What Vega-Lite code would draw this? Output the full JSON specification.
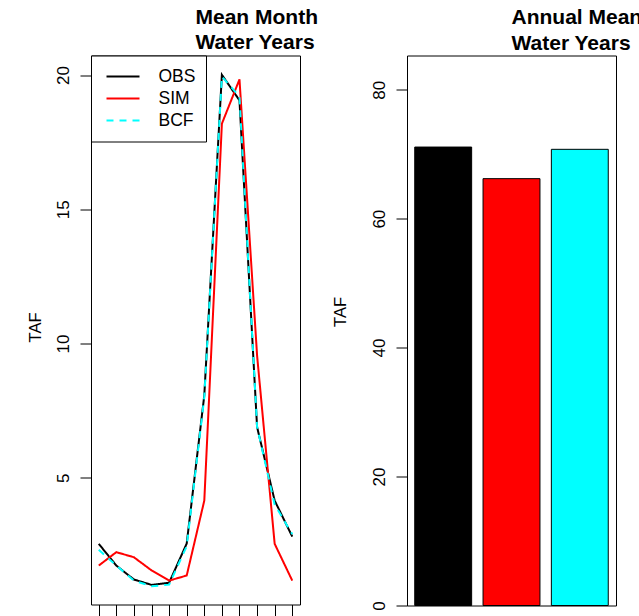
{
  "$schema": "https://vega.github.io/schema/vega-lite/v6.json",
  "background": "white",
  "padding": {"left": 26, "top": 5.5, "right": 0, "bottom": 0},
  "config": {
    "font": "Liberation Sans",
    "view": {"stroke": "black", "strokeWidth": 1},
    "axis": {
      "domain": false, "grid": false, "tickColor": "black", "tickSize": 11, "tickWidth": 1,
      "labelColor": "black", "labelFontSize": 17, "labelFont": "Liberation Sans",
      "titleFont": "Liberation Sans", "titleFontWeight": "normal", "titleFontSize": 16.5, "titleColor": "black"
    },
    "title": {"font": "Liberation Sans", "fontSize": 21, "fontWeight": "bold", "color": "black", "lineHeight": 25.5, "anchor": "middle", "align": "left", "baseline": "bottom", "offset": 0}
  },
  "datasets": {
    "monthly": [
      {"month": 1, "series": "OBS", "taf": 2.54}, {"month": 2, "series": "OBS", "taf": 1.73}, {"month": 3, "series": "OBS", "taf": 1.21},
      {"month": 4, "series": "OBS", "taf": 1.01}, {"month": 5, "series": "OBS", "taf": 1.09}, {"month": 6, "series": "OBS", "taf": 2.55},
      {"month": 7, "series": "OBS", "taf": 8.07}, {"month": 8, "series": "OBS", "taf": 20.01}, {"month": 9, "series": "OBS", "taf": 19.06},
      {"month": 10, "series": "OBS", "taf": 6.89}, {"month": 11, "series": "OBS", "taf": 4.15}, {"month": 12, "series": "OBS", "taf": 2.81},
      {"month": 1, "series": "SIM", "taf": 1.73}, {"month": 2, "series": "SIM", "taf": 2.23}, {"month": 3, "series": "SIM", "taf": 2.04},
      {"month": 4, "series": "SIM", "taf": 1.55}, {"month": 5, "series": "SIM", "taf": 1.17}, {"month": 6, "series": "SIM", "taf": 1.36},
      {"month": 7, "series": "SIM", "taf": 4.15}, {"month": 8, "series": "SIM", "taf": 18.19}, {"month": 9, "series": "SIM", "taf": 19.84},
      {"month": 10, "series": "SIM", "taf": 9.56}, {"month": 11, "series": "SIM", "taf": 2.54}, {"month": 12, "series": "SIM", "taf": 1.17},
      {"month": 1, "series": "BCF", "taf": 2.32}, {"month": 2, "series": "BCF", "taf": 1.73}, {"month": 3, "series": "BCF", "taf": 1.17},
      {"month": 4, "series": "BCF", "taf": 0.96}, {"month": 5, "series": "BCF", "taf": 1.02}, {"month": 6, "series": "BCF", "taf": 2.45},
      {"month": 7, "series": "BCF", "taf": 8.0}, {"month": 8, "series": "BCF", "taf": 19.95}, {"month": 9, "series": "BCF", "taf": 19.2},
      {"month": 10, "series": "BCF", "taf": 6.9}, {"month": 11, "series": "BCF", "taf": 4.0}, {"month": 12, "series": "BCF", "taf": 2.9}
    ],
    "annual": [
      {"name": "OBS", "taf": 71.1},
      {"name": "SIM", "taf": 66.2},
      {"name": "BCF", "taf": 70.75}
    ]
  },
  "spacing": 107,
  "bounds": "flush",
  "resolve": {
    "scale": {"color": "independent", "strokeDash": "independent"},
    "legend": {"color": "independent", "strokeDash": "independent"}
  },
  "hconcat": [
    {
      "width": 209,
      "height": 549,
      "title": {"text": ["Mean Month", "Water Years"], "anchor": "middle", "align": "left", "dy": 2},
      "data": {"name": "monthly"},
      "mark": {"type": "line", "strokeWidth": 2, "clip": true},
      "encoding": {
        "x": {
          "field": "month", "type": "quantitative",
          "scale": {"domain": [0.56, 12.44], "nice": false, "zero": false},
          "axis": {"values": [1, 2, 3, 4, 5, 6, 7, 8, 9, 10, 11, 12], "labels": false, "title": null}
        },
        "y": {
          "field": "taf", "type": "quantitative",
          "scale": {"domain": [0.28, 20.73], "nice": false, "zero": false},
          "axis": {
            "values": [5, 10, 15, 20], "labelAngle": 270, "labelAlign": "center", "labelBaseline": "alphabetic", "labelPadding": 12,
            "title": "TAF", "titleAngle": 270, "titleAlign": "center", "titleBaseline": "middle", "titleX": -56, "titleY": 271.5
          }
        },
        "color": {
          "field": "series", "type": "nominal",
          "scale": {"domain": ["OBS", "SIM", "BCF"], "range": ["black", "red", "cyan"]},
          "legend": {"title": null, "orient": "top-left", "offset": 0, "strokeColor": "black", "fillColor": "white", "padding": 10, "clipHeight": 22, "rowPadding": 0, "symbolType": "stroke", "symbolSize": 1089, "symbolStrokeWidth": 2, "symbolOffset": 4.5, "labelFontSize": 17.5, "labelFont": "Liberation Sans", "labelColor": "black", "labelOffset": 18}
        },
        "strokeDash": {
          "field": "series", "type": "nominal",
          "scale": {"domain": ["OBS", "SIM", "BCF"], "range": [[1, 0], [1, 0], [7, 6]]},
          "legend": {"title": null, "orient": "top-left", "offset": 0, "strokeColor": "black", "fillColor": "white", "padding": 10, "clipHeight": 22, "rowPadding": 0, "symbolType": "stroke", "symbolSize": 1089, "symbolStrokeWidth": 2, "symbolOffset": 4.5, "labelFontSize": 17.5, "labelFont": "Liberation Sans", "labelColor": "black", "labelOffset": 18}
        }
      }
    },
    {
      "width": 209,
      "height": 550,
      "title": {"text": ["Annual Mean", "Water Years"], "anchor": "middle", "align": "left", "dy": 2},
      "data": {"name": "annual"},
      "mark": {"type": "bar", "stroke": "black", "strokeWidth": 1},
      "encoding": {
        "x": {
          "field": "name", "type": "nominal", "sort": ["OBS", "SIM", "BCF"],
          "scale": {"paddingInner": 0.1667, "paddingOuter": 0.1133},
          "axis": null
        },
        "y": {
          "field": "taf", "type": "quantitative",
          "scale": {"domain": [0, 85.3], "nice": false},
          "axis": {
            "values": [0, 20, 40, 60, 80], "labelAngle": 270, "labelAlign": "center", "labelBaseline": "alphabetic", "labelPadding": 12,
            "title": "TAF", "titleAngle": 270, "titleAlign": "center", "titleBaseline": "middle", "titleX": -67, "titleY": 256
          }
        },
        "color": {
          "field": "name", "type": "nominal",
          "scale": {"domain": ["OBS", "SIM", "BCF"], "range": ["black", "red", "cyan"]},
          "legend": null
        }
      }
    }
  ]
}
